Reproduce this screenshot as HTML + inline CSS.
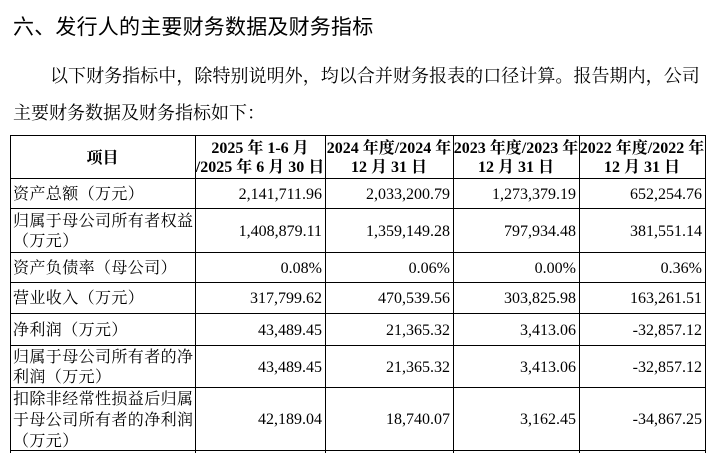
<!DOCTYPE html>
<html>
<head>
<meta charset="utf-8">
<style>
  html,body{margin:0;padding:0;background:#fff;}
  body{width:717px;height:453px;overflow:hidden;position:relative;color:#000;
       font-family:"Liberation Serif","Noto Serif CJK SC",serif;}
  .title{position:absolute;left:13px;top:17px;font-size:21px;line-height:21px;white-space:nowrap;
         font-family:"Liberation Sans","Noto Sans CJK SC",sans-serif;letter-spacing:0.2px;}
  .p{position:absolute;font-size:18px;line-height:18px;white-space:nowrap;
     font-family:"Liberation Serif","Noto Serif CJK SC",serif;}
  .hl{position:absolute;left:10px;width:696px;height:1px;background:#000;}
  .vl{position:absolute;top:135px;width:1px;height:318px;background:#000;}
  .c{position:absolute;display:flex;flex-direction:column;justify-content:center;
     font-size:16px;line-height:20px;white-space:nowrap;box-sizing:border-box;padding-top:2px;}
  .l{left:13px;width:182px;align-items:flex-start;letter-spacing:0.4px;}
  .n{align-items:flex-end;padding-right:3px;}
  .hd{align-items:center;font-weight:bold;line-height:19px;}
  .c2{left:195px;width:130px;}
  .c3{left:325px;width:128px;}
  .c4{left:453px;width:126px;}
  .c5{left:579px;width:126px;}
</style>
</head>
<body>
<div class="title">六、发行人的主要财务数据及财务指标</div>
<div class="p" style="left:50px;top:67px;letter-spacing:0.05px;">以下财务指标中，除特别说明外，均以合并财务报表的口径计算。报告期内，公司</div>
<div class="p" style="left:13px;top:104px;">主要财务数据及财务指标如下：</div>

<!-- horizontal lines -->
<div class="hl" style="top:135px"></div>
<div class="hl" style="top:178px"></div>
<div class="hl" style="top:208px"></div>
<div class="hl" style="top:252px"></div>
<div class="hl" style="top:282px"></div>
<div class="hl" style="top:313px"></div>
<div class="hl" style="top:345px"></div>
<div class="hl" style="top:387px"></div>
<div class="hl" style="top:450px"></div>
<!-- vertical lines -->
<div class="vl" style="left:10px"></div>
<div class="vl" style="left:195px"></div>
<div class="vl" style="left:325px"></div>
<div class="vl" style="left:453px"></div>
<div class="vl" style="left:579px"></div>
<div class="vl" style="left:705px"></div>

<!-- header -->
<div class="c hd" style="left:10px;width:185px;top:136px;height:42px;">项目</div>
<div class="c hd c2" style="top:136px;height:42px;"><div>2025 年 1-6 月</div><div>/2025 年 6 月 30 日</div></div>
<div class="c hd c3" style="top:136px;height:42px;"><div>2024 年度/2024 年</div><div>12 月 31 日</div></div>
<div class="c hd c4" style="top:136px;height:42px;"><div>2023 年度/2023 年</div><div>12 月 31 日</div></div>
<div class="c hd c5" style="top:136px;height:42px;"><div>2022 年度/2022 年</div><div>12 月 31 日</div></div>

<!-- row 1 -->
<div class="c l" style="top:179px;height:29px;">资产总额（万元）</div>
<div class="c n c2" style="top:179px;height:29px;">2,141,711.96</div>
<div class="c n c3" style="top:179px;height:29px;">2,033,200.79</div>
<div class="c n c4" style="top:179px;height:29px;">1,273,379.19</div>
<div class="c n c5" style="top:179px;height:29px;">652,254.76</div>

<!-- row 2 -->
<div class="c l" style="top:209px;height:43px;"><div>归属于母公司所有者权益</div><div>（万元）</div></div>
<div class="c n c2" style="top:209px;height:43px;">1,408,879.11</div>
<div class="c n c3" style="top:209px;height:43px;">1,359,149.28</div>
<div class="c n c4" style="top:209px;height:43px;">797,934.48</div>
<div class="c n c5" style="top:209px;height:43px;">381,551.14</div>

<!-- row 3 -->
<div class="c l" style="top:253px;height:29px;">资产负债率（母公司）</div>
<div class="c n c2" style="top:253px;height:29px;">0.08%</div>
<div class="c n c3" style="top:253px;height:29px;">0.06%</div>
<div class="c n c4" style="top:253px;height:29px;">0.00%</div>
<div class="c n c5" style="top:253px;height:29px;">0.36%</div>

<!-- row 4 -->
<div class="c l" style="top:283px;height:30px;">营业收入（万元）</div>
<div class="c n c2" style="top:283px;height:30px;">317,799.62</div>
<div class="c n c3" style="top:283px;height:30px;">470,539.56</div>
<div class="c n c4" style="top:283px;height:30px;">303,825.98</div>
<div class="c n c5" style="top:283px;height:30px;">163,261.51</div>

<!-- row 5 -->
<div class="c l" style="top:314px;height:31px;">净利润（万元）</div>
<div class="c n c2" style="top:314px;height:31px;">43,489.45</div>
<div class="c n c3" style="top:314px;height:31px;">21,365.32</div>
<div class="c n c4" style="top:314px;height:31px;">3,413.06</div>
<div class="c n c5" style="top:314px;height:31px;">-32,857.12</div>

<!-- row 6 -->
<div class="c l" style="top:346px;height:41px;"><div>归属于母公司所有者的净</div><div>利润（万元）</div></div>
<div class="c n c2" style="top:346px;height:41px;">43,489.45</div>
<div class="c n c3" style="top:346px;height:41px;">21,365.32</div>
<div class="c n c4" style="top:346px;height:41px;">3,413.06</div>
<div class="c n c5" style="top:346px;height:41px;">-32,857.12</div>

<!-- row 7 -->
<div class="c l" style="top:388px;height:62px;line-height:21px;"><div>扣除非经常性损益后归属</div><div>于母公司所有者的净利润</div><div>（万元）</div></div>
<div class="c n c2" style="top:388px;height:62px;">42,189.04</div>
<div class="c n c3" style="top:388px;height:62px;">18,740.07</div>
<div class="c n c4" style="top:388px;height:62px;">3,162.45</div>
<div class="c n c5" style="top:388px;height:62px;">-34,867.25</div>
</body>
</html>
